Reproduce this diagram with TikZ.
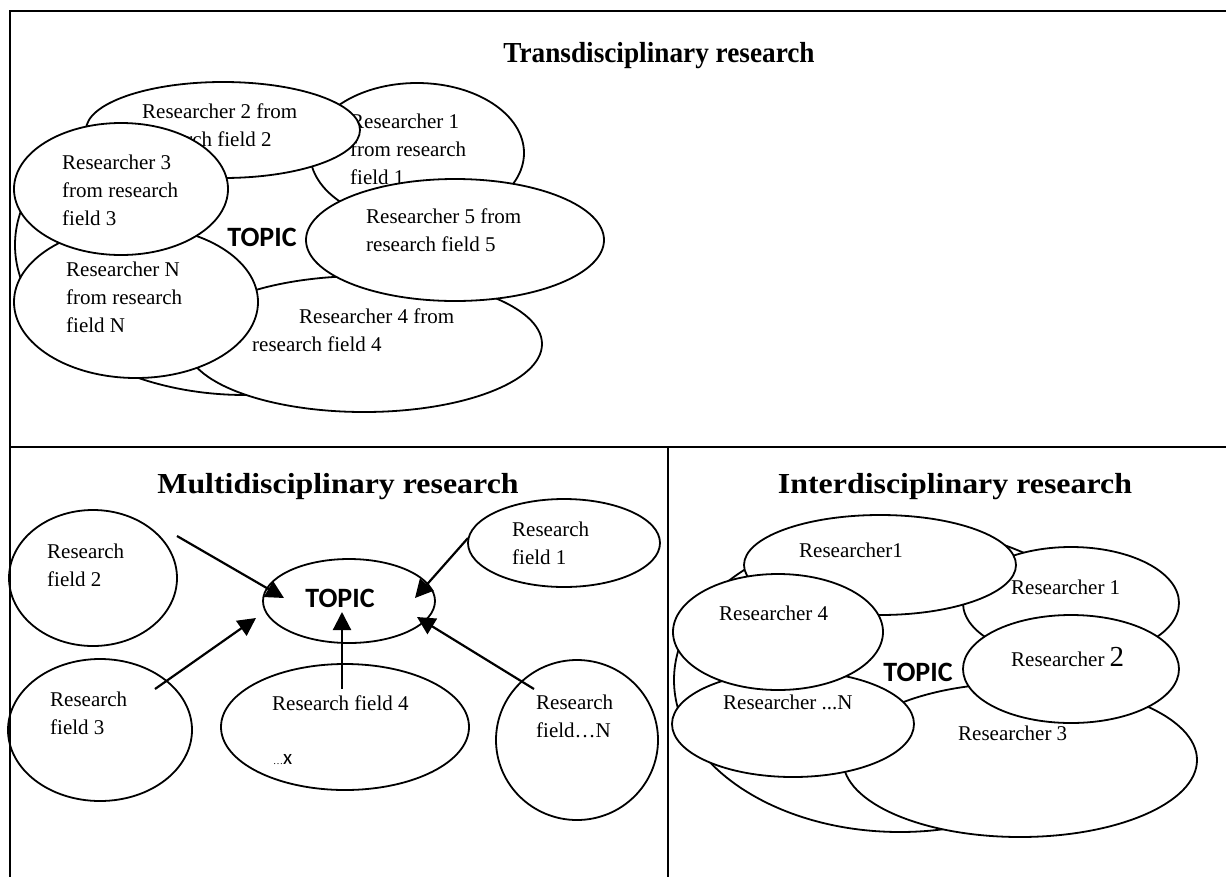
\documentclass[tikz,border=0pt]{standalone}
\usepackage{fontspec}
\setmainfont{Liberation Serif}
\newfontfamily\topicfont{Carlito}
\usetikzlibrary{arrows.meta,shapes.geometric}
\tikzset{
  ell/.style={draw, ellipse, line width=1.8pt, fill=white, inner sep=0pt, outer sep=0pt},
  txt/.style={anchor=north west, inner sep=0pt, align=left, font=\fontsize{21}{28}\selectfont},
  line/.style={anchor=base west, inner sep=0pt, font=\fontsize{21}{28}\selectfont},
  topic/.style={inner sep=0pt, font=\topicfont\bfseries\fontsize{28}{30}\selectfont},
  ttl/.style={anchor=base, inner sep=0pt, font=\bfseries\fontsize{29}{32}\selectfont},
  frame/.style={line width=2.4pt, line cap=rect},
  arr/.style={line width=2.2pt, -{Triangle[length=18pt,width=18pt]}}
}
\begin{document}
\begin{tikzpicture}[x=1pt,y=-1pt]
\useasboundingbox (0,0) rectangle (1226,876);
\fill[white] (0,0) rectangle (1226,876);

% ---------- Transdisciplinary ----------
\node[ttl] (ttitle) at (659,62) {\scalebox{0.94}[1]{Transdisciplinary research}};
\node[ell, minimum width=460pt, minimum height=300pt] (tbig) at (245,245) {};
\node[topic] (ttopic) at (262,237) {TOPIC};
\node[ell, minimum width=214pt, minimum height=140pt] (tr1) at (417,153) {};
\node[txt] (tr1t) at (350,114) {Researcher 1\\from research\\field 1};
\node[ell, minimum width=356pt, minimum height=136pt] (tr4) at (364,344) {};
\node[txt] (tr4t) at (252,309) {\hspace*{47pt}Researcher 4 from\\research field 4};
\node[ell, minimum width=274pt, minimum height=96pt] (tr2) at (223,130) {};
\node[txt] (tr2t) at (142,104) {Researcher 2 from\\research field 2};
\node[ell, minimum width=244pt, minimum height=152pt] (trn) at (136,302) {};
\node[txt] (trnt) at (66,262) {Researcher N\\from research\\field N};
\node[ell, minimum width=214pt, minimum height=132pt] (tr3) at (121,189) {};
\node[txt] (tr3t) at (62,155) {Researcher 3\\from research\\field 3};
\node[ell, minimum width=298pt, minimum height=122pt] (tr5) at (455,240) {};
\node[txt] (tr5t) at (366,209) {Researcher 5 from\\research field 5};

% ---------- Multidisciplinary ----------
\node[ttl] (mtitle) at (338,493) {\scalebox{1.1}[1]{Multidisciplinary research}};
\node[ell, minimum width=168pt, minimum height=136pt] (mf2) at (93,578) {};
\node[txt] (mf2t) at (47,544) {Research\\field 2};
\node[ell, minimum width=192pt, minimum height=88pt] (mf1) at (564,543) {};
\node[txt] (mf1t) at (512,522) {Research\\field 1};
\node[ell, minimum width=172pt, minimum height=84pt] (mtop) at (349,601) {};
\node[topic] (mtopic) at (340,598) {TOPIC};
\node[ell, minimum width=184pt, minimum height=142pt] (mf3) at (100,730) {};
\node[txt] (mf3t) at (50,692) {Research\\field 3};
\node[ell, minimum width=248pt, minimum height=126pt] (mf4) at (345,727) {};
\node[line] (mf4t) at (272,710) {Research field 4};
\node[anchor=base west, inner sep=0pt] (mf4x) at (273,764) {{\fontsize{10}{10}\selectfont\char"2026}{\topicfont\fontsize{21}{21}\selectfont x}};
\node[ell, minimum width=162pt, minimum height=160pt] (mfn) at (577,740) {};
\node[txt] (mfnt) at (536,695) {Research\\field\char"2026N};

\coordinate (a2s) at (177,536); \coordinate (a2e) at (284,598);
\coordinate (a1s) at (468,538); \coordinate (a1e) at (415,598);
\coordinate (a3s) at (155,689); \coordinate (a3e) at (256,618);
\coordinate (a4s) at (342,689); \coordinate (a4e) at (342,612);
\coordinate (ans) at (534,689); \coordinate (ane) at (417,617);
\draw[arr] (a2s) -- (a2e);
\draw[arr] (a1s) -- (a1e);
\draw[arr] (a3s) -- (a3e);
\draw[arr] (a4s) -- (a4e);
\draw[arr] (ans) -- (ane);

% ---------- Interdisciplinary ----------
\node[ttl] (ititle) at (955,493) {\scalebox{1.1}[1]{Interdisciplinary research}};
\node[ell, minimum width=452pt, minimum height=304pt] (ibig) at (900,680) {};
\node[topic] (itopic) at (918,672) {TOPIC};
\node[ell, minimum width=216pt, minimum height=112pt] (ir1b) at (1071,603) {};
\node[line] (ir1bt) at (1011,594) {Researcher 1};
\node[ell, minimum width=272pt, minimum height=100pt] (ir1a) at (880,565) {};
\node[line] (ir1at) at (799,557) {Researcher1};
\node[ell, minimum width=354pt, minimum height=154pt] (ir3) at (1020,760) {};
\node[line] (ir3t) at (958,740) {Researcher 3};
\node[ell, minimum width=242pt, minimum height=106pt] (irn) at (793,724) {};
\node[line] (irnt) at (723,709) {Researcher ...N};
\node[ell, minimum width=210pt, minimum height=116pt] (ir4) at (778,632) {};
\node[line] (ir4t) at (719,620) {Researcher 4};
\node[ell, minimum width=216pt, minimum height=108pt] (ir2) at (1071,669) {};
\node[line] (ir2t) at (1011,666) {Researcher {\fontsize{29}{29}\selectfont 2}};

% ---------- table frame ----------
\draw[frame] (10,11) -- (1226,11);
\draw[frame] (10,11) -- (10,876);
\draw[frame] (10,447) -- (1226,447);
\draw[frame] (668,447) -- (668,876);
\end{tikzpicture}
\end{document}
